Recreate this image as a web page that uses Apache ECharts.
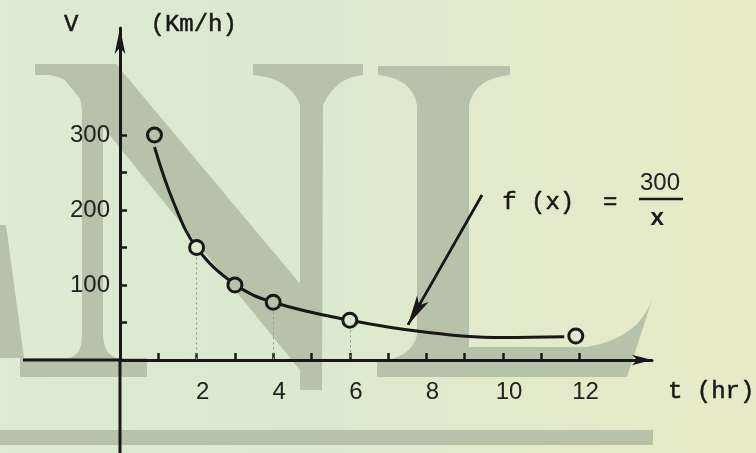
<!DOCTYPE html>
<html>
<head>
<meta charset="utf-8">
<script src="https://cdn.jsdelivr.net/npm/echarts@6/dist/echarts.min.js"></script>
<style>
  html, body { margin: 0; padding: 0; }
  #chart {
    width: 756px; height: 453px;
    background: linear-gradient(90deg, #dcebd2 0%, #d9eacf 40%, #e2eacb 62%, #e7eac6 100%);
  }
</style>
</head>
<body>
<div id="chart"></div>
<script>
// Speed V (km/h) against travel time t (hr): f(x) = 300 / x

// axis ticks and labels
const timeTicks = [1, 2, 3, 4, 5, 6, 7, 8, 9, 10, 11, 12];
const timeLabels = [2, 4, 6, 8, 10, 12];
const speedTicks = [50, 100, 150, 200, 250, 300];
const speedLabels = [100, 200, 300];

// plotted points (hollow circles)
const pointT = [0.9, 2, 3, 4, 6, 11.9];
const pointV = [300, 150, 100, 77, 53, 32];

// hand-drawn curve through the points
const curveT = [0.9, 1.4, 2, 3, 4, 6, 8, 10, 11.6];
const curveV = [284, 210, 150, 101, 77, 53, 37, 30, 31];

// dotted drop lines from points to the time axis
const guideT = [2, 4, 6];
const guideV = [150, 77, 53];

// pointer arrow towards the curve
const arrowFrom = [9.45, 220];
const arrowTo = [7.52, 47];

const INK = '#181818';
const SHADE = '#b6c2aa';
const PAPER = '#d9eacf';
const MONO = '"Liberation Mono", "DejaVu Sans Mono", monospace';
const SANS = '"Liberation Sans", Arial, sans-serif';

// inner colour of each ring, so the curve does not show through it
const ringFill = [SHADE, PAPER, SHADE, SHADE, PAPER, '#e2eacb'];

// large pale "NL" letters printed behind the figure (M/L/Q/Z outlines)
const shadePaths = [
  // N: left stem with serifs
  'M35 64 L114 64 L114 75 Q104 78 103 110 L103 335 Q104 356 118 358 L147 358 L147 377 L20 377 L20 358 L68 358 Q82 356 82 335 L82 110 Q80 80 50 75 L35 75 Z',
  // N: diagonal
  'M52 64 L116 64 L312 298 L321 390 L316 390 Z',
  // N: right stem
  'M253 64 L363 64 L363 75 Q336 77 323 105 L322 390 L300 390 L300 105 Q290 78 253 75 Z',
  // L
  'M378 66 L510 66 L510 75 Q475 78 469 105 L469 347 L587 347 Q640 338 653 297 L627 377 L377 377 L377 362 Q412 358 417 335 L417 105 Q412 78 378 75 Z',
  // leg of a neighbouring letter
  'M0 225 L6 225 L24 358 L0 358 Z',
  // bar along the bottom
  'M0 430 L653 430 L653 445 L0 445 Z'
];

// turn an outline string into polygon points, sampling the quadratic curves
function outlineToPoints(d) {
  const tok = d.match(/[MLQZ]|-?\d+(\.\d+)?/g);
  const pts = [];
  let i = 0, cx = 0, cy = 0;
  while (i < tok.length) {
    const c = tok[i++];
    if (c === 'M' || c === 'L') {
      cx = +tok[i++]; cy = +tok[i++];
      pts.push([cx, cy]);
    } else if (c === 'Q') {
      const qx = +tok[i++], qy = +tok[i++], ex = +tok[i++], ey = +tok[i++];
      for (let s = 1; s <= 8; s++) {
        const t = s / 8, u = 1 - t;
        pts.push([u * u * cx + 2 * u * t * qx + t * t * ex, u * u * cy + 2 * u * t * qy + t * t * ey]);
      }
      cx = ex; cy = ey;
    }
  }
  return pts;
}

const chart = echarts.init(document.getElementById('chart'), null, { renderer: 'canvas' });

const curveData = curveT.map((t, i) => [t, curveV[i]]);
const pointData = pointT.map((t, i) => ({
  value: [t, pointV[i]],
  itemStyle: { color: ringFill[i] }
}));
const guideData = guideT.map((t, i) => [{ coord: [t, guideV[i]] }, { coord: [t, 0] }]);

const typeText = {
  fontFamily: MONO, fontSize: 24, color: INK,
  textBorderColor: INK, textBorderWidth: 0.5
};

const option = {
  animation: false,
  backgroundColor: 'transparent',
  grid: { left: 120, right: 104, top: 28, bottom: 93, containLabel: false, outerBoundsMode: 'none' },
  xAxis: {
    type: 'value',
    min: 0,
    max: 13.89,
    name: 't (hr)',
    nameLocation: 'end',
    nameGap: 16,
    nameTextStyle: Object.assign({}, typeText, {
      align: 'left', verticalAlign: 'top', lineHeight: 64
    }),
    axisLine: {
      onZero: false,
      symbol: ['none', 'arrow'],
      symbolSize: [8, 20],
      lineStyle: { color: INK, width: 3 }
    },
    axisTick: {
      show: true, inside: true, length: 7,
      customValues: timeTicks,
      lineStyle: { color: INK, width: 2.5 }
    },
    axisLabel: {
      customValues: timeLabels,
      margin: 20,
      padding: [0, 0, 0, 12],
      fontFamily: SANS, fontSize: 24, color: '#222'
    },
    splitLine: { show: false }
  },
  yAxis: {
    type: 'value',
    min: 0,
    max: 442.7,
    name: 'V     (Km/h)',
    nameLocation: 'end',
    nameGap: 3,
    nameTextStyle: Object.assign({}, typeText, {
      align: 'center', verticalAlign: 'middle', padding: [0, 0, 0, 61]
    }),
    axisLine: {
      onZero: false,
      symbol: ['none', 'arrow'],
      symbolSize: [8, 26],
      lineStyle: { color: INK, width: 3 }
    },
    axisTick: {
      show: true, inside: true, length: 7,
      customValues: speedTicks,
      lineStyle: { color: INK, width: 2.5 }
    },
    axisLabel: {
      customValues: speedLabels,
      margin: 10,
      fontFamily: SANS, fontSize: 24, color: '#222'
    },
    splitLine: { show: false }
  },
  graphic: [
    ...shadePaths.map((d, i) => ({
      id: 'shade' + i,
      type: 'polygon', z: -10, silent: true,
      shape: { points: outlineToPoints(d) },
      style: { fill: SHADE }
    })),
    {
      id: 'formulaLeft',
      type: 'text', left: 502, top: 190, z: 5,
      style: { text: 'f (x)  =', font: '24px ' + MONO, fill: INK, stroke: INK, lineWidth: 0.5 }
    },
    {
      id: 'formulaNum',
      type: 'text', left: 640, top: 171, z: 5,
      style: { text: '300', font: '24px ' + SANS, fill: '#222' }
    },
    {
      id: 'formulaBar',
      type: 'line', z: 5,
      shape: { x1: 639, y1: 199, x2: 683, y2: 199 },
      style: { stroke: INK, lineWidth: 2.5 }
    },
    {
      id: 'formulaDen',
      type: 'text', left: 650, top: 207, z: 5,
      style: { text: 'x', font: 'bold 24px ' + MONO, fill: INK }
    }
  ],
  series: [
    {
      type: 'line',
      data: curveData,
      smooth: 0.4,
      showSymbol: false,
      silent: true,
      lineStyle: { color: INK, width: 3 },
      z: 3,
      markLine: {
        silent: true,
        symbol: ['none', 'none'],
        label: { show: false },
        lineStyle: { color: '#8c9a88', width: 1, type: [2, 3] },
        data: guideData
      }
    },
    {
      type: 'line',
      data: [arrowFrom, arrowTo],
      showSymbol: false,
      silent: true,
      lineStyle: { color: INK, width: 2.5 },
      z: 4,
      markLine: {
        silent: true,
        symbol: ['none', 'arrow'],
        symbolSize: [10, 30],
        label: { show: false },
        lineStyle: { color: INK, width: 2.5, type: 'solid' },
        data: [[{ coord: arrowFrom }, { coord: arrowTo }]]
      }
    },
    {
      type: 'scatter',
      data: pointData,
      symbol: 'circle',
      symbolSize: 14,
      silent: true,
      itemStyle: { borderColor: INK, borderWidth: 3, opacity: 1 },
      z: 5
    }
  ]
};

chart.setOption(option);

// continue both axes past the origin: the time axis to the left edge,
// the speed axis down to the bottom edge
const origin = chart.convertToPixel({ gridIndex: 0 }, [0, 0]);
chart.setOption({
  graphic: [
    {
      id: 'timeAxisTail',
      type: 'line', z: 1, silent: true,
      shape: { x1: 23, y1: origin[1], x2: origin[0], y2: origin[1] },
      style: { stroke: INK, lineWidth: 3 }
    },
    {
      id: 'speedAxisTail',
      type: 'line', z: 1, silent: true,
      shape: { x1: origin[0], y1: origin[1], x2: origin[0], y2: chart.getHeight() },
      style: { stroke: INK, lineWidth: 3 }
    }
  ]
});
</script>
</body>
</html>
